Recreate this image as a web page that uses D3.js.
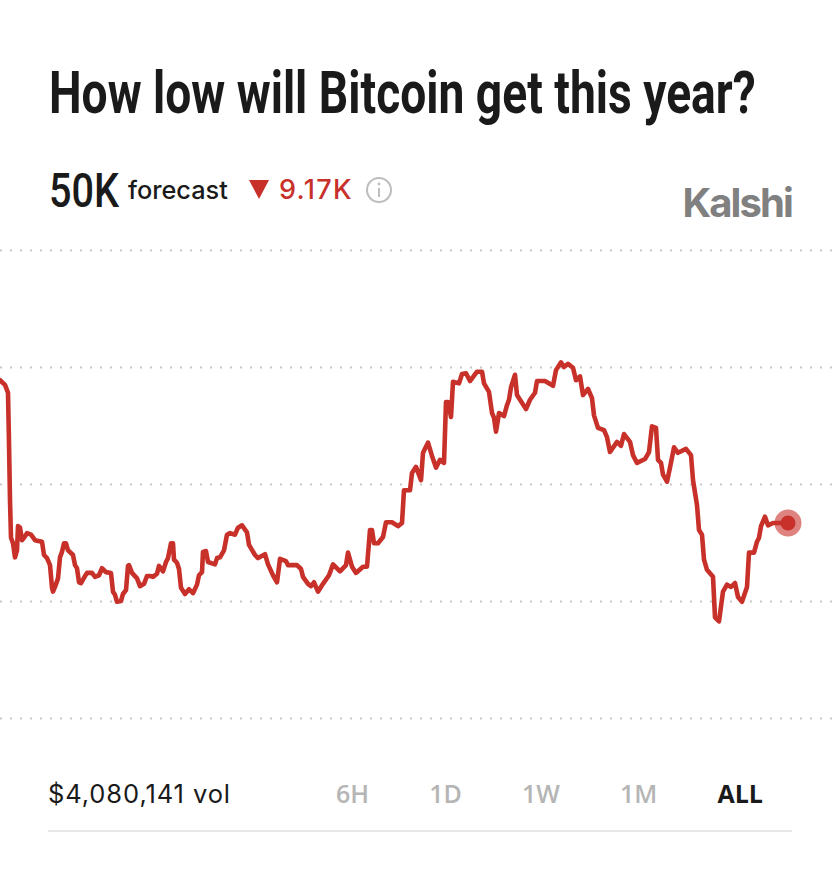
<!DOCTYPE html>
<html>
<head>
<meta charset="utf-8">
<script src="https://cdn.jsdelivr.net/npm/d3@7"></script>
<style>
  body { margin: 0; background: #fff; }
  text { font-family: Inter, sans-serif; }
  .range { font-family: "Open Sans", sans-serif; font-size: 25px; font-weight: 600; fill: #b5b5b5; }
</style>
</head>
<body>
<div id="chart"></div>
<script>
// days since the market opened, and the forecast low in thousands of dollars
var days = [
    0,1.25,2,2.25,2.5,2.75,3.25,3.75,4.25,4.5,
    5,5.5,6,6.75,7.75,8.75,10.5,11,11.75,12.5,
    13,13.25,13.75,14.5,15,15.5,16,16.5,17,18.25,
    18.75,19.25,19.75,20.25,21.25,21.75,23,23.75,24.75,25.5,
    26.5,27.75,28.25,28.75,29.25,30.25,30.75,31.5,32,32.25,
    33,34.25,35,36,36.75,37.5,38.25,39.25,39.75,40.75,
    41.5,42,42.75,43.25,43.5,44.25,44.75,45.25,46.25,47.25,
    48.25,49.25,49.75,50.5,50.75,51.5,52,53.75,54.25,55,
    56,56.75,57.5,58.75,59.5,60.5,61.75,62.25,63.75,64.5,
    66.25,67,68.25,69.25,70,71.5,72,74.25,75.25,75.75,
    77,77.75,78.5,79.5,80.75,82.25,83.25,85,86.5,87,
    88,89,90.75,91.75,92.5,93,93.5,94.5,95.75,96.5,
    98,99.5,100.5,101,102.5,103,104,105.25,105.75,107,
    108,109,110,111,111.5,112,112.75,113.25,114.75,115.5,
    116.5,117.5,119.25,120.5,121,122.25,123,123.5,124,124.75,
    126,126.75,127.25,127.75,128.75,129.25,131.5,132.5,133.75,134.25,
    136.25,138.25,139,140.25,141,142,143.25,144,145,145.75,
    147,148,148.5,149.5,151,151.75,152.5,154.25,155.25,156,
    157.5,158.25,159.25,161.25,162.25,163,164,164.5,165.25,165.75,
    166.75,167.5,168.5,169.5,171.5,172.75,173.25,174.25,174.75,175.5,
    176,176.75,178.25,178.75,179.75,180.75,181.75,182.75,183.75,184.5,
    185.5,186.75,187.25,188.5,189.25,189.75,190.25,191.25,192,193.25,197
];
var forecastK = [
    68.3,67.7,66.7,60.3,52.9,48.1,47.4,45.6,46.5,49.6,
    49.4,47.8,48.1,48.7,48.5,47.8,47.6,45.9,45.5,44.6,
    41.7,41.2,41.8,42.9,45.6,46.3,47.4,47.4,46.5,45.9,
    44.6,44.2,42.4,42.3,43.2,43.6,43.6,43.1,43.3,44.2,
    43.7,43.6,41.2,40.8,39.9,40,40.9,41.4,44.5,44.6,
    43.6,42.9,41.9,42.2,43.2,43.2,43.1,43.5,44.5,43.8,
    45,45.5,47.4,47.4,45.3,44.9,44.1,41.7,40.9,41.5,
    41,42.1,43.3,43.7,46.3,46.4,45,44.7,45.5,45.6,
    46.5,48.5,48.7,48.5,49.4,49.7,48.8,47.2,45.9,45.5,
    46,44.7,43.3,42.4,45.4,45.1,44.6,44.6,44.1,43.1,
    42.2,41.9,42.4,41.2,42.2,43.3,44.7,43.8,44.6,46.2,
    44.4,43.6,44.4,44.4,49.1,49.1,47.4,47.4,48.2,50.1,
    50.1,49.6,50,54.2,54.2,56.4,57.2,55.5,59,60.3,
    58.6,57.1,58.1,57.7,65.5,65.5,63.6,68.1,67.9,69.1,
    69.2,68.2,69.4,69.4,67.9,66.8,64.1,63.5,61.7,64.1,
    63.7,65.1,65.8,67.4,69,66.4,64.6,65.8,66.7,68.2,
    68.2,67.6,69.6,70.6,70,70.4,69.9,68.3,68.8,66.4,
    67.2,66,63.8,62.2,61.9,61,59.1,60.4,59.9,61.4,
    60.4,58.7,57.7,58.2,59.1,62.4,62.2,58.1,57.7,56.2,
    55.3,57.1,59.7,59,59.5,58.7,55.5,52.3,49.1,48.5,
    45.3,44,43.1,37.9,37.4,41.2,42.1,41.8,42.3,40.5,
    39.9,41.8,46.2,46.2,47.6,48.1,49.6,50.8,49.7,50,50
];
var gridTicks = [25, 40, 55, 70, 85];
var ranges = ["6H", "1D", "1W", "1M", "ALL"];

var red = "#c8302a";
var svg = d3.select("#chart").append("svg")
    .attr("width", 840)
    .attr("height", 880)
    .style("display", "block");

// squeeze a text sideways to the width it has in the reference
function fitWidth(sel, left, baseline, width) {
    var natural = sel.node().getComputedTextLength();
    sel.attr("transform", `translate(${left}, ${baseline}) scale(${width / natural}, 1)`);
}

var title = svg.append("text")
    .style("font-family", "'Liberation Sans Narrow', Roboto")
    .attr("font-size", 59).attr("font-weight", 700).attr("fill", "#1a1a1a")
    .text("How low will Bitcoin get this year?");
fitWidth(title, 49, 113, 707);

var current = svg.append("text")
    .style("font-family", "Roboto")
    .attr("font-size", 49).attr("font-weight", 500).attr("fill", "#1a1a1a")
    .text("50K");
fitWidth(current, 49, 207, 70);

svg.append("text")
    .attr("x", 128).attr("y", 199)
    .attr("font-size", 25.3).attr("font-weight", 500).attr("fill", "#1a1a1a")
    .text("forecast");

svg.append("polygon")
    .attr("points", "249,180 269,180 259,199")
    .attr("fill", red);

svg.append("text")
    .attr("x", 279).attr("y", 199)
    .attr("font-size", 27).attr("font-weight", 500).attr("fill", red)
    .attr("letter-spacing", 1.3)
    .text("9.17K");

var info = svg.append("g").attr("transform", "translate(379,190)");
info.append("circle").attr("r", 12).attr("fill", "none").attr("stroke", "#bdbdbd").attr("stroke-width", 2);
info.append("circle").attr("cy", -6).attr("r", 1.4).attr("fill", "#bdbdbd");
info.append("line").attr("y1", -2).attr("y2", 7).attr("stroke", "#bdbdbd").attr("stroke-width", 2);

svg.append("text")
    .attr("x", 792).attr("y", 217).attr("text-anchor", "end")
    .attr("font-size", 40).attr("font-weight", 700).attr("fill", "#808080")
    .attr("letter-spacing", -1.9)
    .text("Kalshi");

var x = d3.scaleLinear().domain([0, 197]).range([0, 788]);
var y = d3.scaleLinear().domain([25, 85]).range([718, 250]);

var grid = svg.append("g")
    .call(d3.axisLeft(y).tickValues(gridTicks).tickSize(-832).tickFormat(""));
grid.select(".domain").remove();
grid.selectAll("line")
    .attr("stroke", "#c8c8c8")
    .attr("stroke-width", 2)
    .attr("stroke-dasharray", "2 8");

var line = d3.line()
    .x(function(d, i) { return x(days[i]); })
    .y(function(d) { return y(d); });

svg.append("path")
    .datum(forecastK)
    .attr("d", line)
    .attr("fill", "none")
    .attr("stroke", red)
    .attr("stroke-width", 4.6)
    .attr("stroke-linejoin", "round")
    .attr("stroke-linecap", "round");

var lastDay = days[days.length - 1];
var lastValue = forecastK[forecastK.length - 1];
svg.append("circle")
    .attr("cx", x(lastDay)).attr("cy", y(lastValue))
    .attr("r", 13.5).attr("fill", red).attr("opacity", 0.6);
svg.append("circle")
    .attr("cx", x(lastDay)).attr("cy", y(lastValue))
    .attr("r", 7.5).attr("fill", red);

svg.append("text")
    .attr("x", 48).attr("y", 803)
    .attr("font-size", 25.5).attr("font-weight", 400).attr("fill", "#1a1a1a")
    .attr("letter-spacing", 0.9)
    .text("$4,080,141 vol");

// range buttons sit with equal gaps between them, so widths decide the spots
var rangeText = svg.selectAll(".range")
    .data(ranges)
    .enter()
    .append("text")
    .attr("class", "range")
    .attr("y", 803)
    .style("fill", function(d) { return d == "ALL" ? "#1a1a1a" : "#b5b5b5"; })
    .style("font-weight", function(d) { return d == "ALL" ? 700 : 600; })
    .text(function(d) { return d; });

var widths = [];
rangeText.each(function() { widths.push(this.getComputedTextLength()); });
var gap = (763 - 336 - d3.sum(widths)) / (ranges.length - 1);
rangeText.attr("x", function(d, i) { return 336 + d3.sum(widths.slice(0, i)) + gap * i; });

svg.append("line")
    .attr("x1", 48).attr("x2", 792)
    .attr("y1", 831).attr("y2", 831)
    .attr("stroke", "#e8e8e8")
    .attr("stroke-width", 2);
</script>
</body>
</html>
